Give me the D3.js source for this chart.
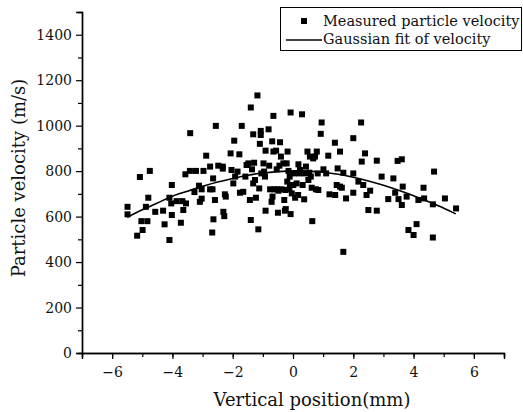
<!DOCTYPE html>
<html><head><meta charset="utf-8">
<script src="https://cdn.jsdelivr.net/npm/d3@7"></script>
<style>body{margin:0;background:#fff}svg{display:block}</style>
</head><body>
<svg id="c" width="523" height="412"></svg>
<script>
// Measured points (vertical position mm, velocity m/s)
const posX = [-5.49,-5.49,-5.17,-5.08,-4.99,-5.03,-4.83,-4.88,-4.80,-4.75,-4.57,-4.26,-4.31,-4.10,-4.10,-4.02,-4.02,-4.04,-3.86,-3.67,-3.72,-3.64,-3.55,-3.57,-3.41,-3.42,-3.27,-3.22,-3.12,-3.09,-3.03,-3.03,-2.97,-2.88,-2.75,-2.75,-2.68,-2.67,-2.65,-2.64,-2.59,-2.56,-2.48,-2.33,-2.33,-2.31,-2.28,-2.26,-2.23,-2.07,-2.04,-1.98,-1.95,-1.92,-1.84,-1.78,-1.76,-1.70,-1.65,-1.58,-1.54,-1.48,-1.43,-1.40,-1.40,-1.36,-1.32,-1.29,-1.32,-1.26,-1.23,-1.18,-1.15,-1.12,-1.10,-1.07,-1.07,-1.05,-0.98,-0.96,-0.93,-0.91,-0.91,-0.81,-0.79,-0.76,-0.71,-0.68,-0.69,-0.65,-0.65,-0.62,-0.56,-0.54,-0.52,-0.50,-0.48,-0.45,-0.43,-0.40,-0.38,-0.32,-0.29,-0.27,-0.25,-0.24,-0.21,-0.19,-0.18,-0.15,-0.12,-0.11,-0.10,-0.08,-0.08,-0.04,0.01,0.03,0.07,0.12,0.17,0.18,0.21,0.23,0.30,0.32,0.37,0.40,0.43,0.48,0.51,0.54,0.56,0.59,0.62,0.64,0.67,0.73,0.76,0.79,0.82,0.84,0.92,0.95,1.01,1.10,1.17,1.21,1.39,1.40,1.45,1.48,1.56,1.56,1.62,1.67,1.67,1.76,2.00,2.00,2.00,2.17,2.26,2.28,2.33,2.39,2.44,2.50,2.56,2.78,2.78,2.94,3.16,3.33,3.39,3.47,3.50,3.61,3.61,3.64,3.77,3.83,4.00,4.10,4.16,4.33,4.35,4.64,4.64,4.68,5.04,5.41];
const velY = [643,610,516,774,541,580,580,643,683,801,621,566,626,497,683,739,607,658,668,668,573,629,658,786,967,801,708,801,736,665,679,720,801,868,820,720,530,720,768,588,673,999,824,820,811,621,602,698,688,878,805,746,934,776,798,874,705,999,709,776,827,834,673,1080,585,808,962,837,746,761,683,1133,544,724,920,977,959,790,834,798,776,626,890,984,824,720,665,688,931,1043,886,720,890,808,720,617,714,824,927,864,720,834,673,626,717,633,834,754,886,801,720,776,739,611,1058,702,739,790,683,746,695,830,790,805,1050,739,676,790,820,886,761,793,864,776,727,580,856,864,720,886,790,717,964,1014,808,790,868,698,925,695,739,812,886,732,727,445,793,680,790,945,705,754,1014,842,739,878,695,629,714,626,846,776,677,768,705,845,677,852,651,732,688,541,519,567,673,727,680,654,508,798,680,636];
// Gaussian fit curve
const fitX = [-5.5,-5,-4.5,-4,-3.5,-3,-2.5,-2,-1.5,-1,-0.5,0,0.5,1,1.5,2,2.5,3,3.5,4,4.5,5,5.4];
const fitY = [597,630,660,690,712,733,752,768,782,792,798,801,800,795,786,773,757,738,716,692,665,637,612];
const xTicks = [-6,-4,-2,0,2,4,6];
const yTicks = [0,200,400,600,800,1000,1200,1400];
const legendLabels = ["Measured particle velocity","Gaussian fit of velocity"];
const xTitle = "Vertical position(mm)";
const yTitle = "Particle velocity (m/s)";

const W = 523, H = 412;
const m = {l:82, r:19, t:12, b:59};
const svg = d3.select("#c");
const FONT = "DejaVu Serif";
const x = d3.scaleLinear().domain([-7,7]).range([m.l, W-m.r]);
const y = d3.scaleLinear().domain([0,1500]).range([H-m.b, m.t]);

// minor ticks
const gx = svg.append("g").attr("transform",`translate(0,${H-m.b})`);
gx.call(d3.axisBottom(x).tickValues(d3.range(-7,8,1)).tickSize(4).tickFormat(""));
const gx2 = svg.append("g").attr("transform",`translate(0,${H-m.b})`);
gx2.call(d3.axisBottom(x).tickValues(xTicks).tickSize(6).tickPadding(8));
const gy = svg.append("g").attr("transform",`translate(${m.l},0)`);
gy.call(d3.axisLeft(y).tickValues(d3.range(100,1500,200)).tickSize(4).tickFormat(""));
const gy2 = svg.append("g").attr("transform",`translate(${m.l},0)`);
gy2.call(d3.axisLeft(y).tickValues(yTicks).tickSize(6).tickPadding(4).tickFormat(d3.format("d")));
svg.selectAll(".domain").attr("stroke","#000").attr("stroke-width",1.4);
svg.selectAll(".tick line").attr("stroke","#000").attr("stroke-width",1.2);
svg.selectAll(".tick text").attr("font-family",FONT).attr("font-size",14).attr("fill","#111");

// points
const pts = posX.map((v,i)=>[v, velY[i]]);
const S = 6;
svg.append("g").selectAll("rect").data(pts).join("rect")
  .attr("x",d=>x(d[0])-S/2).attr("y",d=>y(d[1])-S/2)
  .attr("width",S).attr("height",S).attr("fill","#000");

// fit line
const fit = fitX.map((v,i)=>[v, fitY[i]]);
svg.append("path").datum(fit)
  .attr("d", d3.line().x(d=>x(d[0])).y(d=>y(d[1])).curve(d3.curveMonotoneX))
  .attr("fill","none").attr("stroke","#000").attr("stroke-width",1.6);

// titles
svg.append("text").attr("x",312).attr("y",406).attr("text-anchor","middle")
  .attr("font-family",FONT).attr("font-size",18).attr("fill","#111").text(xTitle);
svg.append("text").attr("transform","translate(25,178) rotate(-90)").attr("text-anchor","middle")
  .attr("font-family",FONT).attr("font-size",18).attr("fill","#111").text(yTitle);

// legend
const lg = svg.append("g");
lg.append("rect").attr("x",280.5).attr("y",7.5).attr("width",241).attr("height",43)
  .attr("fill","#fff").attr("stroke","#000").attr("stroke-width",1);
lg.append("rect").attr("x",301).attr("y",18).attr("width",6).attr("height",6).attr("fill","#000");
lg.append("line").attr("x1",286).attr("x2",322).attr("y1",40).attr("y2",40).attr("stroke","#000").attr("stroke-width",1.4);
lg.selectAll("text.l").data(legendLabels).join("text").attr("class","l")
  .attr("x",323).attr("y",(d,i)=>26+i*18).attr("font-family",FONT).attr("font-size",14.5).attr("fill","#111").text(d=>d);
</script>
</body></html>
